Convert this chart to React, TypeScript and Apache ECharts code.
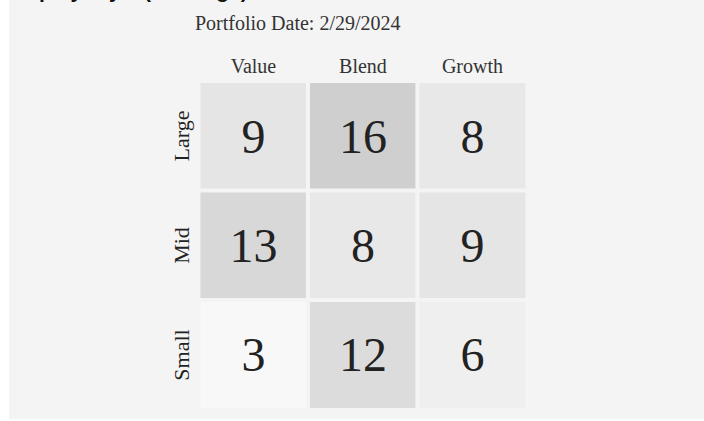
import React, { useEffect, useRef } from "react";
import * as echarts from "echarts";

const columns = ["Value", "Blend", "Growth"];
const rows = ["Large", "Mid", "Small"];
const largeValues = [9, 16, 8];
const midValues = [13, 8, 9];
const smallValues = [3, 12, 6];
const titleText = "Equity Style (Holdings)";
const subtitleText = "Portfolio Date: 2/29/2024";

const SERIF = '"Liberation Serif", "Times New Roman", serif';

export default function App() {
  const ref = useRef<HTMLDivElement>(null);
  useEffect(() => {
    document.body.style.margin = "0";
    if (!ref.current) return;
    const chart = echarts.init(ref.current, undefined, { renderer: "svg" });
    const rowValues = [largeValues, midValues, smallValues];
    const data: number[][] = [];
    rowValues.forEach((vals, r) => {
      vals.forEach((v, c) => data.push([c, r, v]));
    });
    const all = data.map((d) => d[2]);
    chart.setOption({
      animation: false,
      backgroundColor: "#ffffff",
      graphic: [
        {
          type: "rect",
          z: -10,
          shape: { x: 9, y: 0, width: 695, height: 419 },
          style: { fill: "#f4f4f4" },
          silent: true,
        },
        {
          type: "text",
          x: 18,
          y: -9.5,
          style: {
            text: titleText,
            font: 'bold 21px "Liberation Sans", Arial, sans-serif',
            fill: "#111111",
            verticalAlign: "middle",
            align: "left",
          },
        },
        {
          type: "text",
          x: 195,
          y: 23,
          style: {
            text: subtitleText,
            font: "20px " + SERIF,
            fill: "#333333",
            verticalAlign: "middle",
            align: "left",
          },
        },
      ],
      grid: { left: 198.7, top: 81.3, width: 328.5, height: 328.4 },
      xAxis: {
        type: "category",
        position: "top",
        data: columns,
        axisLine: { show: false },
        axisTick: { show: false },
        splitLine: { show: false },
        axisLabel: { fontSize: 20, fontFamily: SERIF, color: "#333333", margin: 5 },
      },
      yAxis: {
        type: "category",
        inverse: true,
        data: rows,
        axisLine: { show: false },
        axisTick: { show: false },
        splitLine: { show: false },
        axisLabel: { fontSize: 22, fontFamily: SERIF, color: "#222222", rotate: 90, margin: 6 },
      },
      visualMap: {
        show: false,
        type: "continuous",
        min: Math.min(...all),
        max: Math.max(...all),
        dimension: 2,
        inRange: { color: ["#f8f8f8", "#cfcfcf"] },
      },
      series: [
        {
          type: "heatmap",
          data,
          itemStyle: { borderColor: "#f4f4f4", borderWidth: 4 },
          label: {
            show: true,
            fontFamily: SERIF,
            fontSize: 48,
            color: "#222222",
            formatter: (p: any) => String(p.data[2]),
          },
          emphasis: { disabled: true },
        },
      ],
    });
    return () => chart.dispose();
  }, []);
  return <div ref={ref} style={{ width: 704, height: 421 }} />;
}
